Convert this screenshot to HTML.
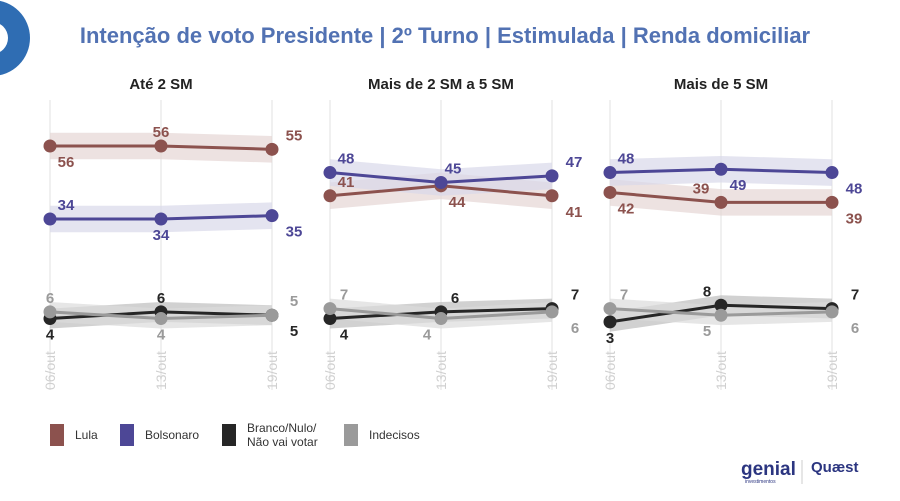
<!DOCTYPE html>
<html><head><meta charset="utf-8"><style>
body{margin:0;width:900px;height:501px;background:#fff;overflow:hidden;font-family:"Liberation Sans",sans-serif}
svg{display:block}
</style></head><body>
<svg id="chart" width="900" height="501" viewBox="0 0 900 501">
<circle cx="-8" cy="38" r="38" fill="#2f6db3"/>
<circle cx="-8" cy="38" r="16" fill="#fff"/>
<text x="445" y="43" text-anchor="middle" font-size="22" font-weight="bold" fill="#5272b3">Intenção de voto Presidente | 2º Turno | Estimulada | Renda domiciliar</text>
<g id="panels"></g>
<g id="legend"></g>
<text x="741" y="475" font-size="19" fill="#2b3580" font-weight="bold">genial</text>
<text x="745" y="483" font-size="5" fill="#2b3580">investimentos</text>
<line x1="802" y1="460" x2="802" y2="484" stroke="#ccc"/>
<text x="811" y="472" font-size="15" fill="#2b3580" font-weight="bold">Quæst</text>
</svg>
<script>
const panelTitles = ["Até 2 SM", "Mais de 2 SM a 5 SM", "Mais de 5 SM"];
const dates = ["06/out", "13/out", "19/out"];
const seriesNames = ["Lula", "Bolsonaro", "Branco/Nulo/ Não vai votar", "Indecisos"];
const lula = [[56,56,55],[41,44,41],[42,39,39]];
const bolsonaro = [[34,34,35],[48,45,47],[48,49,48]];
const branco = [[4,6,5],[4,6,7],[3,8,7]];
const indecisos = [[6,4,5],[7,4,6],[7,5,6]];
// label side: 1 above, -1 below
const lulaSide = [[-1,1,1],[1,-1,-1],[-1,1,-1]];
const bolsSide = [[1,-1,-1],[1,1,1],[1,-1,-1]];
const brancoSide = [[-1,1,-1],[-1,1,1],[-1,1,1]];
const indecSide = [[1,-1,1],[1,-1,-1],[1,-1,-1]];
// label horizontal nudge
const lulaDx = [[16,0,22],[16,16,22],[16,-20,22]];
const bolsDx = [[16,0,22],[16,12,22],[16,17,22]];
const brancoDx = [[0,0,22],[14,14,23],[0,-14,23]];
const indecDx = [[0,0,22],[14,-14,23],[14,-14,23]];
const margins = [4,4,3,3];

const colors = ["#8c524e","#4d4796","#262626","#9a9a9a"];
const bandColors = ["#e6d6d4","#d9d8ea","#bdbdbd","#dcdcdc"];
const NS = "http://www.w3.org/2000/svg";
function mk(tag, attrs, parent){const e=document.createElementNS(NS,tag);for(const k in attrs)e.setAttribute(k,attrs[k]);parent.appendChild(e);return e;}
function xs(p,i){return 50 + p*280 + i*111;}
function ys(v){return 146 + (56 - v)*3.318;}
const panels = document.getElementById('panels');
const allSeries = [lula,bolsonaro,branco,indecisos];
const allSides = [lulaSide,bolsSide,brancoSide,indecSide];
const allDx = [lulaDx,bolsDx,brancoDx,indecDx];
for(let p=0;p<3;p++){
  const g = mk('g',{},panels);
  
  
  const t = mk('text',{x:xs(p,1),y:89,'text-anchor':'middle','font-size':15,'font-weight':'bold',fill:'#222'},g);
  t.textContent = panelTitles[p];
  
  
  for(let i=0;i<3;i++){
    const l = mk('line',{x1:xs(p,i),x2:xs(p,i),y1:100,y2:390,stroke:'#ebebeb','stroke-width':1.5},g);
    
    
    const dt = mk('text',{x:0,y:0,'font-size':14,fill:'#d0d0d0',transform:`translate(${xs(p,i)+5},${390}) rotate(-90)`,'text-anchor':'start'},g);
    dt.textContent = dates[i];
    
    
  }
  for(let s=0;s<4;s++){
    const vals = allSeries[s][p];
    const m = margins[s];
    let up = vals.map((v,i)=>xs(p,i)+','+ys(v+m)).join(' ');
    let dn = vals.map((v,i)=>xs(p,i)+','+ys(v-m)).reverse().join(' ');
    const band = mk('polygon',{points:up+' '+dn,fill:bandColors[s],opacity:0.7},g);
    
    
  }
  for(let s=0;s<4;s++){
    const vals = allSeries[s][p];
    const ln = mk('polyline',{points:vals.map((v,i)=>xs(p,i)+','+ys(v)).join(' '),fill:'none',stroke:colors[s],'stroke-width':3},g);
    
    
    vals.forEach((v,i)=>{
      const c = mk('circle',{cx:xs(p,i),cy:ys(v),r:6.5,fill:colors[s]},g);
      
      
      const side = allSides[s][p][i];
      const lx = xs(p,i) + allDx[s][p][i];
      const ly = side>0 ? ys(v)-9 : ys(v)+21;
      const tx = mk('text',{x:lx,y:ly,'text-anchor':'middle','font-size':15,'font-weight':'bold',fill:colors[s]},g);
      tx.textContent = v;
      
      
    });
  }
}
const legend = document.getElementById('legend');
const lx = [50,120,222,344];
seriesNames.forEach((n,i)=>{
  const r = mk('rect',{x:lx[i],y:424,width:14,height:22,fill:colors[i]},legend);
  
  
  const parts = n.split(' Não');
  const t = mk('text',{x:lx[i]+25,y:parts.length>1?432:439,'font-size':12,fill:'#333'},legend);
  t.textContent = parts[0];
  
  
  if(parts.length>1){
    const t2 = mk('text',{x:lx[i]+25,y:446,'font-size':12,fill:'#333'},legend);
    t2.textContent = 'Não'+parts[1];
    
    
  }
});
</script>
</body></html>
